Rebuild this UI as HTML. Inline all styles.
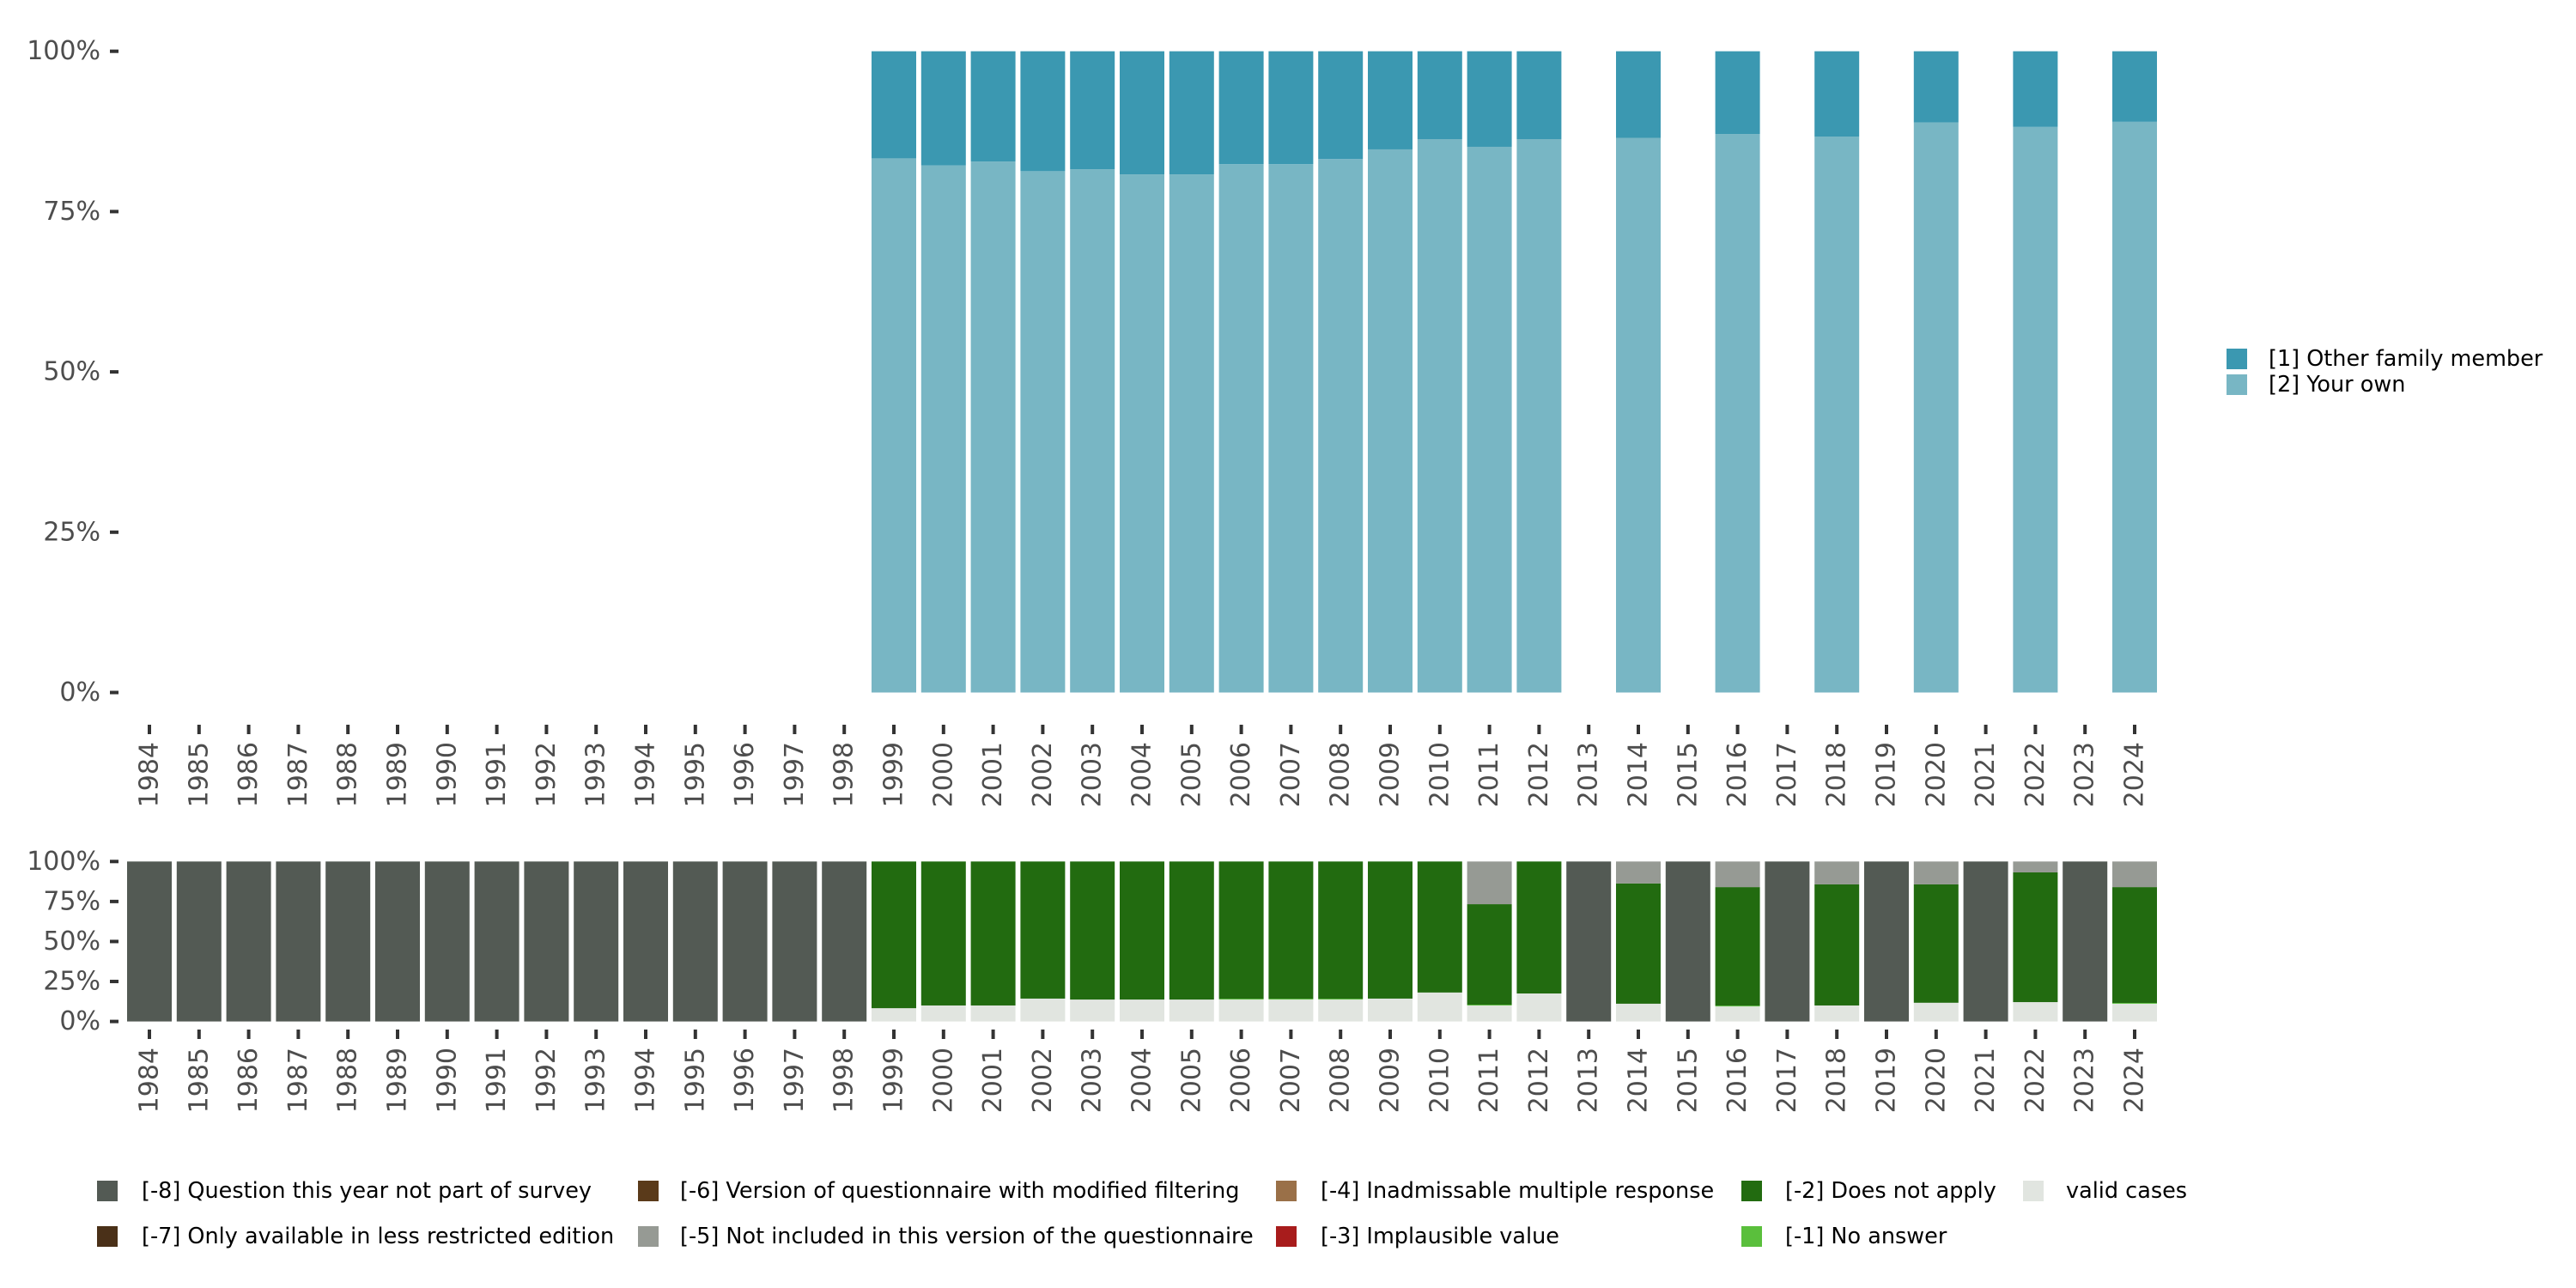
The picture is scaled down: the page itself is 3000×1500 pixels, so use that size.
<!DOCTYPE html>
<html><head><meta charset="utf-8"><style>
html,body{margin:0;padding:0;background:#fff;}
svg{display:block;font-family:"DejaVu Sans","Liberation Sans",sans-serif;}
</style></head><body>
<svg id="chart" width="3000" height="1500" viewBox="0 0 3000 1500" xmlns="http://www.w3.org/2000/svg">
<g id="top"></g>
<g id="bottom"></g>
<g id="toplegend"></g>
<g id="botlegend"></g>
</svg>
<script>
const years = [1984,1985,1986,1987,1988,1989,1990,1991,1992,1993,1994,1995,1996,1997,1998,1999,2000,2001,2002,2003,2004,2005,2006,2007,2008,2009,2010,2011,2012,2013,2014,2015,2016,2017,2018,2019,2020,2021,2022,2023,2024];
const topYears = [1999,2000,2001,2002,2003,2004,2005,2006,2007,2008,2009,2010,2011,2012,2014,2016,2018,2020,2022,2024];
const yourOwn = [83.3,82.2,82.8,81.3,81.6,80.8,80.8,82.4,82.4,83.2,84.7,86.3,85.1,86.3,86.5,87.1,86.7,88.9,88.2,89.0];
const yTicks = [0,25,50,75,100];
const yTickLabels = ["0%","25%","50%","75%","100%"];
// bottom chart series (percent), stacked bottom to top
const validCases = [0,0,0,0,0,0,0,0,0,0,0,0,0,0,0,8.3,10,10,14.3,13.7,13.7,13.7,13.7,13.7,13.7,14.3,18.1,10,17.5,0,11.1,0,9.4,0,10,0,11.7,0,12.1,0,11.1];
const noAnswer = [0,0,0,0,0,0,0,0,0,0,0,0,0,0,0,0,0,0,0,0,0,0,0.5,0.5,0.5,0,0,0.5,0,0,0,0,0.5,0,0,0,0,0,0,0,0.5];
const doesNotApply = [0,0,0,0,0,0,0,0,0,0,0,0,0,0,0,91.7,90,90,85.7,86.3,86.3,86.3,85.8,85.8,85.8,85.7,81.9,62.8,82.5,0,75.2,0,74.1,0,75.7,0,74,0,81.1,0,72.4];
const notIncluded = [0,0,0,0,0,0,0,0,0,0,0,0,0,0,0,0,0,0,0,0,0,0,0,0,0,0,0,26.7,0,0,13.7,0,16,0,14.3,0,14.3,0,6.8,0,16];
const notPart = [100,100,100,100,100,100,100,100,100,100,100,100,100,100,100,0,0,0,0,0,0,0,0,0,0,0,0,0,0,100,0,100,0,100,0,100,0,100,0,100,0];

const NS="http://www.w3.org/2000/svg";
function mk(parent,tag,attrs){const e=document.createElementNS(NS,tag);for(const k in attrs)e.setAttribute(k,attrs[k]);parent.appendChild(e);return e;}
const x0=174, pitch=57.8, bw=52;
function xPos(year){return x0+years.indexOf(year)*pitch;}

function axes(g,y0,y100,tickTop,labelTop){
  const ys=v=>y0-(y0-y100)*v/100;
  yTicks.forEach((t,i)=>{
    const tk=mk(g,'rect',{x:128,y:ys(t)-2,width:10,height:4,fill:'#333'});
    
    
    const tx=mk(g,'text',{x:117,y:ys(t),'text-anchor':'end','dominant-baseline':'central','font-size':30,fill:'#4d4d4d'});
    tx.textContent=yTickLabels[i];
    
    
  });
  years.forEach(yr=>{
    const x=xPos(yr);
    const tk=mk(g,'rect',{x:x-2,y:tickTop,width:4,height:11,fill:'#333'});
    
    
    const tx=mk(g,'text',{x:0,y:0,'text-anchor':'end','dominant-baseline':'central','font-size':30,fill:'#4d4d4d',transform:`translate(${x},${labelTop}) rotate(-90)`});
    tx.textContent=String(yr);
    
    
  });
  return ys;
}

// top chart
const gt=document.getElementById('top');
const ysT=axes(gt,806.5,59.7,844,864);
topYears.forEach((yr,i)=>{
  const x=xPos(yr)-bw/2;
  const own=mk(gt,'rect',{x:x,y:ysT(yourOwn[i]),width:bw,height:ysT(0)-ysT(yourOwn[i]),fill:'#78b6c4'});
  
  
  const oth=mk(gt,'rect',{x:x,y:ysT(100),width:bw,height:ysT(yourOwn[i])-ysT(100),fill:'#3b98b1'});
  
  
});

// bottom chart
const gb=document.getElementById('bottom');
const ysB=axes(gb,1189.6,1003.3,1199,1220);
const series=[[validCases,'#e1e5e0','valid'],[noAnswer,'#5abf3c','no-answer'],[doesNotApply,'#226b10','does-not-apply'],[notIncluded,'#969a94','not-included'],[notPart,'#535a54','not-part']];
years.forEach((yr,i)=>{
  let cum=0;
  series.forEach(s=>{
    const v=s[0][i]; if(v<=0)return;
    const r=mk(gb,'rect',{x:xPos(yr)-bw/2,y:ysB(cum+v),width:bw,height:ysB(cum)-ysB(cum+v),fill:s[1]});
    
    
    cum+=v;
  });
});

// top legend
const tl=document.getElementById('toplegend');
[['[1] Other family member','#3b98b1',406],['[2] Your own','#78b6c4',436]].forEach(l=>{
  const k=mk(tl,'rect',{x:2593,y:l[2],width:24,height:24,fill:l[1]});
  
  
  const t=mk(tl,'text',{x:2642,y:l[2]+12,'dominant-baseline':'central','font-size':25.5,fill:'#000'});
  t.textContent=l[0];
  
  
});

// bottom legend
const bl=document.getElementById('botlegend');
const items=[
 ['[-8] Question this year not part of survey','#535a54',113,165,1387],
 ['[-7] Only available in less restricted edition','#4a3018',113,165,1440],
 ['[-6] Version of questionnaire with modified filtering','#5a3a1a',743,792,1387],
 ['[-5] Not included in this version of the questionnaire','#969a94',743,792,1440],
 ['[-4] Inadmissable multiple response','#9a7048',1486,1538,1387],
 ['[-3] Implausible value','#a81c1c',1486,1538,1440],
 ['[-2] Does not apply','#226b10',2028,2079,1387],
 ['[-1] No answer','#5abf3c',2028,2079,1440],
 ['valid cases','#e1e5e0',2356,2406,1387]];
items.forEach(l=>{
  const k=mk(bl,'rect',{x:l[2],y:l[4]-12,width:24,height:24,fill:l[1]});
  
  
  const t=mk(bl,'text',{x:l[3],y:l[4],'dominant-baseline':'central','font-size':25.5,fill:'#000'});
  t.textContent=l[0];
  
  
});
</script>
</body></html>
